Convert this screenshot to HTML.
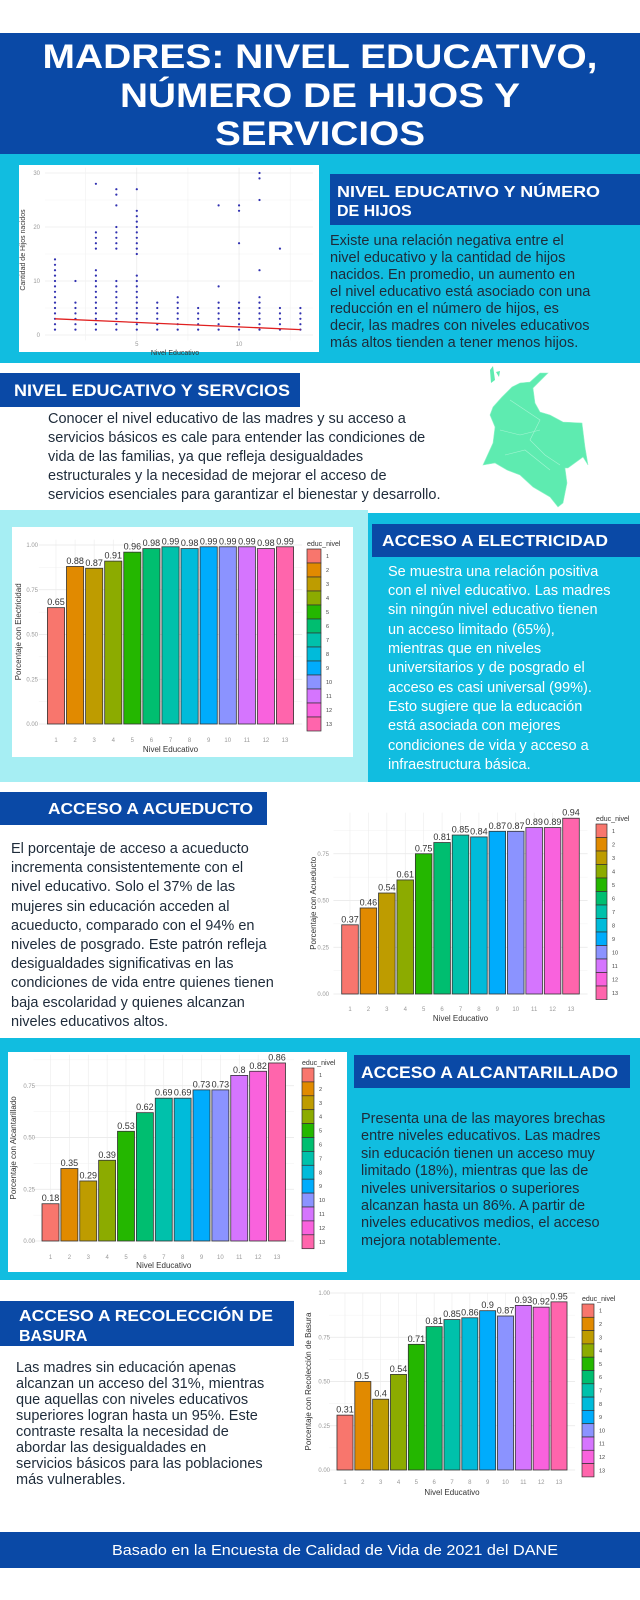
<!DOCTYPE html>
<html><head><meta charset="utf-8"><title>Madres: nivel educativo</title>
<style>
html,body{margin:0;padding:0;background:#fff;}
svg{display:block;font-family:"Liberation Sans",sans-serif;}
.h{font-weight:bold;fill:#fff;}
.bd{font-size:14.5px;fill:#1e2b3a;}
.bw{font-size:14.5px;fill:#fff;}
</style></head>
<body>
<svg id="page" width="640" height="1600" viewBox="0 0 640 1600" xmlns="http://www.w3.org/2000/svg">
<rect x="0" y="33" width="640" height="121" fill="#0a49a6"/>
<rect x="0" y="154" width="640" height="209" fill="#11bde0"/>
<rect x="0" y="510" width="368" height="272" fill="#a6eef3"/>
<rect x="368" y="513" width="272" height="269" fill="#11bde0"/>
<rect x="0" y="1038" width="640" height="242" fill="#11bde0"/>
<rect x="0" y="1532" width="640" height="36" fill="#0a49a6"/>

<g>
<text class="h" x="320" y="68" font-size="34" text-anchor="middle" textLength="555" lengthAdjust="spacingAndGlyphs">MADRES: NIVEL EDUCATIVO,</text>
<text class="h" x="320" y="107" font-size="34" text-anchor="middle" textLength="400" lengthAdjust="spacingAndGlyphs">NÚMERO DE HIJOS Y</text>
<text class="h" x="320" y="145" font-size="34" text-anchor="middle" textLength="210" lengthAdjust="spacingAndGlyphs">SERVICIOS</text>
</g>

<rect x="19" y="165" width="300" height="187" fill="#fff"/>
<g id="scatter"></g>
<rect x="330" y="174" width="310" height="51" fill="#0a49a6"/>
<g>
<text class="h" x="337" y="197" font-size="16" textLength="263" lengthAdjust="spacingAndGlyphs">NIVEL EDUCATIVO Y NÚMERO</text>
<text class="h" x="337" y="216" font-size="16">DE HIJOS</text>
</g>
<g class="bd">
<text class="bd" x="330" y="245">Existe una relación negativa entre el</text>
<text class="bd" x="330" y="262">nivel educativo y la cantidad de hijos</text>
<text class="bd" x="330" y="279">nacidos. En promedio,  un aumento en</text>
<text class="bd" x="330" y="296">el nivel educativo está asociado con una</text>
<text class="bd" x="330" y="313">reducción en el número de hijos, es</text>
<text class="bd" x="330" y="330">decir, las madres con niveles educativos</text>
<text class="bd" x="330" y="347">más altos tienden a tener menos hijos.</text>
</g>

<rect x="0" y="373" width="300" height="34" fill="#0a49a6"/>
<text class="h" x="14" y="396" font-size="17" textLength="276" lengthAdjust="spacingAndGlyphs">NIVEL EDUCATIVO Y SERVCIOS</text>
<g>
<text class="bd" x="48" y="423">Conocer el nivel educativo de las madres y su acceso a</text>
<text class="bd" x="48" y="442">servicios básicos es cale para entender las condiciones de</text>
<text class="bd" x="48" y="461">vida de las familias, ya que refleja desigualdades</text>
<text class="bd" x="48" y="480">estructurales y la necesidad de mejorar el acceso de</text>
<text class="bd" x="48" y="499">servicios esenciales para garantizar el bienestar y desarrollo.</text>
</g>
<g>
<path d="M490,370 L493,366 L495,380 L491,383 Z M496,372 L500,371 L499,377 Z" fill="#5eebb0"/>
<path d="M548,373 L543,378 L533,388 L535,403 L540,412 L550,415 L563,422 L582,423 L585,447 L588,465 L583,457 L568,468 L565,468 L567,483 L563,503 L558,507 L550,497 L533,487 L520,475 L507,470 L495,463 L483,465 L493,443 L495,427 L490,415 L493,407 L502,397 L512,387 L520,383 L530,382 L540,373 Z" fill="#5eebb0" stroke="#8ff3c8" stroke-width="0.6"/>
<path d="M510,400 L525,410 L540,420 L530,440 L545,455 L560,465 M500,430 L520,435 L540,430 M505,455 L525,450 L550,470" fill="none" stroke="#a5f5d3" stroke-width="0.6"/>
</g>

<rect x="12" y="527" width="341" height="230" fill="#fff"/>
<g id="chart-elec"></g>
<rect x="372" y="524" width="268" height="33" fill="#0a49a6"/>
<text class="h" x="382" y="546" font-size="16" textLength="226" lengthAdjust="spacingAndGlyphs">ACCESO A ELECTRICIDAD</text>
<g>
<text class="bw" x="388" y="576">Se muestra una relación positiva</text>
<text class="bw" x="388" y="595">con el nivel educativo. Las madres</text>
<text class="bw" x="388" y="614">sin ningún nivel educativo tienen</text>
<text class="bw" x="388" y="634">un acceso limitado (65%),</text>
<text class="bw" x="388" y="653">mientras que en niveles</text>
<text class="bw" x="388" y="672">universitarios y de posgrado el</text>
<text class="bw" x="388" y="692">acceso es casi universal (99%).</text>
<text class="bw" x="388" y="711">Esto sugiere que la educación</text>
<text class="bw" x="388" y="730">está asociada con mejores</text>
<text class="bw" x="388" y="750">condiciones de vida y acceso a</text>
<text class="bw" x="388" y="769">infraestructura básica.</text>
</g>

<rect x="0" y="792" width="267" height="33" fill="#0a49a6"/>
<text class="h" x="48" y="814" font-size="16" textLength="205" lengthAdjust="spacingAndGlyphs">ACCESO A ACUEDUCTO</text>
<g>
<text class="bd" x="11" y="853">El porcentaje de acceso a acueducto</text>
<text class="bd" x="11" y="872">incrementa consistentemente con el</text>
<text class="bd" x="11" y="891">nivel educativo. Solo el 37% de las</text>
<text class="bd" x="11" y="911">mujeres sin educación acceden al</text>
<text class="bd" x="11" y="930">acueducto, comparado con el 94% en</text>
<text class="bd" x="11" y="949">niveles de posgrado. Este patrón refleja</text>
<text class="bd" x="11" y="968">desigualdades significativas en las</text>
<text class="bd" x="11" y="987">condiciones de vida entre quienes tienen</text>
<text class="bd" x="11" y="1007">baja escolaridad y quienes alcanzan</text>
<text class="bd" x="11" y="1026">niveles educativos altos.</text>
</g>
<g id="chart-acu"></g>

<rect x="8" y="1052" width="339" height="220" fill="#fff"/>
<g id="chart-alc"></g>
<rect x="354" y="1055" width="276" height="33" fill="#0a49a6"/>
<text class="h" x="361" y="1078" font-size="17" textLength="257" lengthAdjust="spacingAndGlyphs">ACCESO A ALCANTARILLADO</text>
<g>
<text class="bd" x="361" y="1123">Presenta una de las mayores brechas</text>
<text class="bd" x="361" y="1140">entre niveles educativos. Las madres</text>
<text class="bd" x="361" y="1158">sin educación tienen un acceso muy</text>
<text class="bd" x="361" y="1175">limitado (18%), mientras que las de</text>
<text class="bd" x="361" y="1193">niveles universitarios o superiores</text>
<text class="bd" x="361" y="1210">alcanzan hasta un 86%. A partir de</text>
<text class="bd" x="361" y="1227">niveles educativos medios, el acceso</text>
<text class="bd" x="361" y="1245">mejora notablemente.</text>
</g>

<rect x="0" y="1301" width="294" height="45" fill="#0a49a6"/>
<g>
<text class="h" x="19" y="1321" font-size="16" textLength="254" lengthAdjust="spacingAndGlyphs">ACCESO A RECOLECCIÓN DE</text>
<text class="h" x="19" y="1341" font-size="16">BASURA</text>
</g>
<g>
<text class="bd" x="16" y="1372">Las madres sin educación apenas</text>
<text class="bd" x="16" y="1388">alcanzan un acceso del 31%, mientras</text>
<text class="bd" x="16" y="1404">que aquellas con niveles educativos</text>
<text class="bd" x="16" y="1420">superiores logran hasta un 95%. Este</text>
<text class="bd" x="16" y="1436">contraste resalta la necesidad de</text>
<text class="bd" x="16" y="1452">abordar las desigualdades en</text>
<text class="bd" x="16" y="1468">servicios básicos para las poblaciones</text>
<text class="bd" x="16" y="1484">más vulnerables.</text>
</g>
<g id="chart-bas"></g>

<text x="335" y="1555" font-size="14.5" fill="#fff" text-anchor="middle" textLength="446" lengthAdjust="spacingAndGlyphs">Basado en la Encuesta de Calidad de Vida de 2021 del DANE</text>
</svg>

<script>
const levels = [1,2,3,4,5,6,7,8,9,10,11,12,13];
const levelColors = ["#F8766D","#E18A00","#BE9C00","#8CAB00","#24B700","#00BE70","#00C1AB","#00BBDA","#00ACFC","#8B93FF","#D575FE","#F962DD","#FF65AC"];
const elecValues = [0.65,0.88,0.87,0.91,0.96,0.98,0.99,0.98,0.99,0.99,0.99,0.98,0.99];
const acuValues = [0.37,0.46,0.54,0.61,0.75,0.81,0.85,0.84,0.87,0.87,0.89,0.89,0.94];
const alcValues = [0.18,0.35,0.29,0.39,0.53,0.62,0.69,0.69,0.73,0.73,0.8,0.82,0.86];
const basValues = [0.31,0.5,0.4,0.54,0.71,0.81,0.85,0.86,0.9,0.87,0.93,0.92,0.95];
const yTicksFull = [0,0.25,0.5,0.75,1];
const yTicksShort = [0,0.25,0.5,0.75];
const scatterL1 = [1,2,3,4,5,6,7,8,9,10,11,12,13,14];
const scatterL2 = [1,2,3,4,5,6,10];
const scatterL3 = [1,2,3,4,5,6,7,8,9,10,11,12,16,17,18,19,28];
const scatterL4 = [1,2,3,4,5,6,7,8,9,10,16,17,18,19,20,24,26,27];
const scatterL5 = [1,2,3,4,5,6,7,8,9,10,11,15,16,17,18,19,20,21,22,23,27];
const scatterL6 = [1,2,3,4,5,6];
const scatterL7 = [1,2,3,4,5,6,7];
const scatterL8 = [1,2,3,4,5];
const scatterL9 = [1,2,3,4,5,6,9,24];
const scatterL10 = [1,2,3,4,5,6,17,23,24];
const scatterL11 = [1,2,3,4,5,6,7,12,25,29,30];
const scatterL12 = [1,2,3,4,5,16];
const scatterL13 = [1,2,3,4,5];
const scatterYTicks = [0,10,20,30];
const scatterXTicks = [5,10];
const trendStart = 3.0;
const trendEnd = 1.0;

const NS = "http://www.w3.org/2000/svg";
function mk(tag, attrs, parent){
  const e = document.createElementNS(NS, tag);
  for (const k in attrs) e.setAttribute(k, attrs[k]);
  parent.appendChild(e);
  return e;
}
function fmt(v){ return v.toFixed(2); }

function barChart(gid, cfg, values, ticks, ytitle){
  const g = document.getElementById(gid);
  const step = (cfg.cx13 - cfg.cx1) / 12;
  const xs = i => cfg.cx1 + i * step;
  const ys = v => cfg.y0 - (cfg.y0 - cfg.y1) * v;
  const left = cfg.cx1 - step * 0.9, right = cfg.cx13 + step * 0.9;
  const top = ys(cfg.topVal);
  for (let t = 0; t < ticks.length; t++){
    const gl = mk("line",{x1:left,x2:right,y1:ys(ticks[t]),y2:ys(ticks[t]),stroke:"#e6e6e6","stroke-width":0.7},g);
    
    
    if (t < ticks.length - 1 || cfg.topVal > ticks[t] + 0.1){
      const m = mk("line",{x1:left,x2:right,y1:ys(ticks[t]+0.125),y2:ys(ticks[t]+0.125),stroke:"#f2f2f2","stroke-width":0.5},g);
      
      
    }
    const tl = mk("text",{x:cfg.tickRight,y:ys(ticks[t])+2,"font-size":6,fill:"#999","text-anchor":"end"},g);
    tl.textContent = fmt(ticks[t]);
    
    
  }
  for (let i = 0; i < levels.length; i++){
    const vg = mk("line",{x1:xs(i),x2:xs(i),y1:top,y2:cfg.y0,stroke:"#ececec","stroke-width":0.6},g);
    
    
  }
  for (let i = 0; i < levels.length; i++){
    const bw = step * 0.9;
    const r = mk("rect",{x:xs(i)-bw/2,y:ys(values[i]),width:bw,height:cfg.y0-ys(values[i]),fill:levelColors[i],stroke:"#333","stroke-width":0.8},g);
    
    
    const vl = mk("text",{x:xs(i),y:ys(values[i])-2.5,"font-size":9,fill:"#333","text-anchor":"middle"},g);
    vl.textContent = String(values[i]);
    
    
    const xl = mk("text",{x:xs(i),y:cfg.xlabY,"font-size":6,fill:"#999","text-anchor":"middle"},g);
    xl.textContent = String(levels[i]);
    
    
  }
  const xt = mk("text",{x:(cfg.cx1+cfg.cx13)/2,y:cfg.xtitleY,"font-size":8,fill:"#333","text-anchor":"middle"},g);
  xt.textContent = "Nivel Educativo";
  
  
  const ym = (cfg.y0 + top) / 2;
  const yt = mk("text",{x:cfg.ytitleX,y:ym,"font-size":8,fill:"#333","text-anchor":"middle",transform:"rotate(-90 "+cfg.ytitleX+" "+ym+")"},g);
  yt.textContent = ytitle;
  
  
  const lt = mk("text",{x:cfg.legX,y:cfg.legY-3,"font-size":7,fill:"#333"},g);
  lt.textContent = "educ_nivel";
  
  
  for (let i = 0; i < levels.length; i++){
    const lr = mk("rect",{x:cfg.legX,y:cfg.legY+i*cfg.legH,width:cfg.legW,height:cfg.legH,fill:levelColors[i],stroke:"#333","stroke-width":0.7},g);
    
    
    const ll = mk("text",{x:cfg.legX+cfg.legW+5,y:cfg.legY+i*cfg.legH+cfg.legH/2+2,"font-size":5.5,fill:"#444"},g);
    ll.textContent = String(levels[i]);
    
    
  }
}

barChart("chart-elec",{cx1:56,cx13:285,y0:724,y1:545,topVal:1.03,tickRight:38,ytitleX:21,xlabY:742,xtitleY:752,legX:307,legY:549,legH:14,legW:14},elecValues,yTicksFull,"Porcentaje con Electricidad");
barChart("chart-acu",{cx1:350,cx13:571,y0:994,y1:807,topVal:0.97,tickRight:329,ytitleX:316,xlabY:1011,xtitleY:1021,legX:596,legY:824,legH:13.5,legW:11},acuValues,yTicksShort,"Porcentaje con Acueducto");
barChart("chart-alc",{cx1:50.5,cx13:277,y0:1241,y1:1034,topVal:0.9,tickRight:35,ytitleX:16,xlabY:1259,xtitleY:1268,legX:302,legY:1068,legH:13.9,legW:12},alcValues,yTicksShort,"Porcentaje con Alcantarillado");
barChart("chart-bas",{cx1:345,cx13:559,y0:1470,y1:1293,topVal:1.0,tickRight:330,ytitleX:311,xlabY:1484,xtitleY:1495,legX:582,legY:1304,legH:13.3,legW:12},basValues,yTicksFull,"Porcentaje con Recolección de Basura");

(function(){
  const g = document.getElementById("scatter");
  const sx = l => 55 + (l - 1) * 20.45;
  const sy = v => 335 - v * 5.4;
  const left = 45, right = 313;
  for (let v = 0; v <= 30; v += 5){
    const gl = mk("line",{x1:left,x2:right,y1:sy(v),y2:sy(v),stroke:v%10===0?"#e4e4e4":"#f1f1f1","stroke-width":0.6},g);
    
    
  }
  for (let l = 2.5; l <= 12.5; l += 2.5){
    const gl = mk("line",{x1:sx(l),x2:sx(l),y1:sy(31),y2:sy(-1),stroke:l%5===0?"#e4e4e4":"#f1f1f1","stroke-width":0.6},g);
    
    
  }
  for (const t of scatterYTicks){
    const tl = mk("text",{x:40,y:sy(t)+2,"font-size":6,fill:"#999","text-anchor":"end"},g);
    tl.textContent = String(t);
    
    
  }
  for (const t of scatterXTicks){
    const tl = mk("text",{x:sx(t),y:346,"font-size":6,fill:"#999","text-anchor":"middle"},g);
    tl.textContent = String(t);
    
    
  }
  const series = [scatterL1,scatterL2,scatterL3,scatterL4,scatterL5,scatterL6,scatterL7,scatterL8,scatterL9,scatterL10,scatterL11,scatterL12,scatterL13];
  for (let i = 0; i < series.length; i++){
    for (const v of series[i]){
      const c = mk("circle",{cx:sx(levels[i]),cy:sy(v),r:1.1,fill:"#3030b0"},g);
      
      
    }
  }
  const tr = mk("line",{x1:sx(1),y1:sy(trendStart),x2:sx(13),y2:sy(trendEnd),stroke:"#e02020","stroke-width":1.3},g);
  
  
  const yt = mk("text",{x:25,y:250,"font-size":7,fill:"#333","text-anchor":"middle",transform:"rotate(-90 25 250)"},g);
  yt.textContent = "Cantidad de Hijos nacidos";
  
  
  const xt = mk("text",{x:175,y:355,"font-size":7,fill:"#333","text-anchor":"middle"},g);
  xt.textContent = "Nivel Educativo";
  
  
})();
</script>
</body></html>
